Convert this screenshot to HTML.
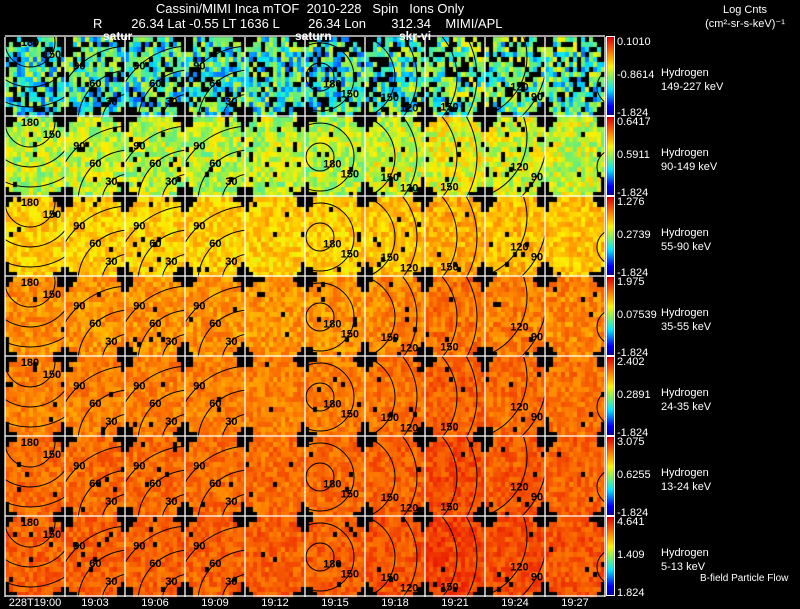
<!DOCTYPE html>
<html><head><meta charset="utf-8">
<style>
html,body{margin:0;background:#000;width:800px;height:609px;overflow:hidden;font-family:"Liberation Sans",sans-serif;color:#fff}
#wrap{position:relative;width:800px;height:609px;overflow:hidden}
canvas,svg{position:absolute;left:0;top:0}
</style></head><body>
<div id="wrap">
<canvas id="cv" width="800" height="609"></canvas>
<svg id="sv" width="800" height="609"></svg>
<svg width="800" height="609">
<text x="310" y="13" font-size="13" fill="#fff" text-anchor="middle" xml:space="preserve">Cassini/MIMI Inca mTOF  2010-228   Spin   Ions Only</text>
<text x="93" y="28" font-size="13" fill="#fff" xml:space="preserve">R        26.34 Lat -0.55 LT 1636 L        26.34 Lon       312.34    MIMI/APL</text>
<text x="103" y="40" font-size="12" fill="#fff" font-weight="bold">satur</text>
<text x="295" y="40" font-size="12" fill="#fff" font-weight="bold">saturn</text>
<text x="399" y="40" font-size="12" fill="#fff" font-weight="bold">skr-vi</text>
<text x="745" y="13" font-size="11" fill="#fff" text-anchor="middle">Log Cnts</text>
<text x="745" y="27" font-size="11" fill="#fff" text-anchor="middle">(cm²-sr-s-keV)⁻¹</text>
<text x="700" y="581" font-size="10" fill="#fff">B-field Particle Flow</text>
</svg>
</div>
<script>
const times=["228T19:00","19:03","19:06","19:09","19:12","19:15","19:18","19:21","19:24","19:27"];
const channels=["149-227 keV","90-149 keV","55-90 keV","35-55 keV","24-35 keV","13-24 keV","5-13 keV"];
const cbTop=["0.1010","0.6417","1.276","1.975","2.402","3.075","4.641"];
const cbMid=["-0.8614","0.5911","0.2739","0.07539","0.2891","0.6255","1.409"];
const cbBot=["-1.824","-1.824","-1.824","-1.824","-1.824","-1.824","1.824"];
const rowLevel=[0.4,0.55,0.68,0.77,0.8,0.83,0.85];
const rowSpread=[0.2,0.12,0.08,0.07,0.06,0.06,0.06];
const rowGaps=[0.25,0.05,0.02,0.02,0.02,0.02,0.02];
const colBoost=[0,0,0,0,0,0,0.02,0.05,0.03,0.02];

const X0=5,PW=60,Y0=37,PH=80,NC=10,NR=7;
const cv=document.getElementById('cv'),ctx=cv.getContext('2d');
function cmap(v){v=Math.max(0,Math.min(1,v));
 const st=[[0,[0,0,160]],[0.12,[0,0,255]],[0.33,[0,230,255]],[0.5,[140,240,80]],[0.63,[255,240,0]],[0.78,[255,140,0]],[1,[230,0,0]]];
 for(let i=1;i<st.length;i++){if(v<=st[i][0]){const a=st[i-1],b=st[i],t=(v-a[0])/(b[0]-a[0]);
 return `rgb(${a[1].map((c,k)=>Math.round(c+(b[1][k]-c)*t)).join(',')})`;}}return 'rgb(230,0,0)';}
function hash(a,b,c){let h=(a*374761393+b*668265263+c*2147483647)|0;h=(h^(h>>>13))*1274126177|0;return ((h^(h>>>16))>>>0)/4294967296;}
const NX=15,NY=16,CW=PW/NX,CH=PH/NY;
for(let r=0;r<NR;r++)for(let c=0;c<NC;c++){
 const px=X0+c*PW,py=Y0+r*PH;
 for(let i=0;i<NX;i++)for(let j=0;j<NY;j++){
  const cx=(i+0.5)/NX-0.5,cy=(j+0.5)/NY-0.5;
  const edge=Math.abs(cx)+Math.abs(cy);
  if(edge>0.85||(edge>0.78&&hash(i,j,c+r*10)<0.5)||hash(i+50,j,c*7+r)<rowGaps[r]){ctx.fillStyle='#000';}
  else{const n=hash(i,j,r*31+c)-0.5;ctx.fillStyle=cmap(rowLevel[r]+colBoost[c]+n*2*rowSpread[r]);}
  ctx.fillRect(Math.floor(px+i*CW),Math.floor(py+j*CH),Math.ceil(CW),Math.ceil(CH));
 }
}
for(let r=0;r<NR;r++){const y0=Y0+r*PH,h=PH-2;
 for(let k=0;k<h;k++){ctx.fillStyle=cmap(1-k/h);ctx.fillRect(607,y0+k,7,1);}}
const NS='http://www.w3.org/2000/svg',sv=document.getElementById('sv');
function el(t,a,txt,parent){const e=document.createElementNS(NS,t);for(const k in a)e.setAttribute(k,a[k]);if(txt!=null)e.textContent=txt;(parent||sv).appendChild(e);return e;}
const cont=[[25,5,[25,45,65],["180","150","120","90"]],[65,85,[28,52,76],["30","60","90"]],[65,85,[28,52,76],["30","60","90"]],[65,85,[28,52,76],["30","60","90"]],null,[15,40,[14,34],["180","150"]],[-12,40,[42,64],["150","120"]],[-30,40,[62,82],["150","120"]],[-20,20,[62,82],["120","90"]],[70,50,[18],["30"]]];
const defs=el('defs',{});
for(let r=0;r<NR;r++)for(let c=0;c<NC;c++){const cp=el('clipPath',{id:'cp'+r+'_'+c},null,defs);
 el('rect',{x:X0+c*PW,y:Y0+r*PH,width:PW,height:PH},null,cp);}
for(let r=0;r<NR;r++)for(let c=0;c<NC;c++){const ct=cont[c];if(!ct)continue;
 const px=X0+c*PW,py=Y0+r*PH,g=el('g',{'clip-path':`url(#cp${r}_${c})`});
 const off=ct[3].length>ct[2].length?1:0;
 ct[2].forEach((rad,k)=>{const circ=el('circle',{cx:px+ct[0],cy:py+ct[1],r:rad,fill:'none',stroke:'#000','stroke-width':1},null,g);
  
  const ang=(c>0&&c<5)?-2.3:0.5;const tx=px+ct[0]+rad*Math.cos(ang),ty=py+ct[1]+rad*Math.sin(ang);
  if(tx>px+6&&tx<px+PW-6&&ty>py+6&&ty<py+PH-4){const t=el('text',{x:tx,y:ty+4,'font-size':11,'font-weight':'bold','text-anchor':'middle',fill:'#000'},ct[3][k+off],g);
   }
 });
 if(off){const t=el('text',{x:px+ct[0],y:py+ct[1]+4,'font-size':11,'font-weight':'bold','text-anchor':'middle',fill:'#000'},ct[3][0],g);
  }
}
for(let c=0;c<=NC;c++){const l=el('line',{x1:X0+c*PW,y1:Y0,x2:X0+c*PW,y2:Y0+PH*NR,stroke:'#fff','stroke-width':1.3});
 }
for(let r=0;r<=NR;r++){const l=el('line',{x1:X0,y1:Y0+r*PH-1,x2:X0+NC*PW,y2:Y0+r*PH-1,stroke:'#fff','stroke-width':1.3});
 }
for(let r=0;r<NR;r++){const y0=Y0+r*PH;
 const b=el('rect',{x:606.5,y:y0-0.5,width:8,height:PH-1,fill:'none',stroke:'#fff','stroke-width':1});
 
 let t=el('text',{x:617,y:y0+8,'font-size':11,fill:'#fff'},cbTop[r]);
 t=el('text',{x:617,y:y0+41,'font-size':11,fill:'#fff'},cbMid[r]);
 t=el('text',{x:617,y:y0+PH-1,'font-size':11,fill:'#fff'},cbBot[r]);
 t=el('text',{x:661,y:y0+39,'font-size':11,fill:'#fff'},'Hydrogen');
 t=el('text',{x:661,y:y0+53,'font-size':11,fill:'#fff'},channels[r]);
}
for(let c=0;c<NC;c++){const t=el('text',{x:X0+c*PW+PW/2,y:606,'font-size':11,fill:'#fff','text-anchor':'middle'},times[c]);
 }
</script>
</body></html>
